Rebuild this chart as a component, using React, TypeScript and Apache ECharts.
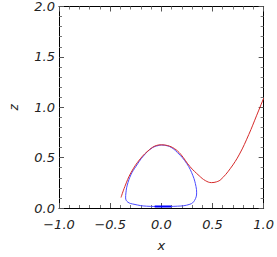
import React, { useEffect, useRef } from "react";
import * as echarts from "echarts";

const xTicks = [-1.0, -0.5, 0.0, 0.5, 1.0];
const zTicks = [0.0, 0.5, 1.0, 1.5, 2.0];

const redX = [-0.394, -0.357, -0.297, -0.206, -0.115, -0.05, 0.0, 0.06, 0.127, 0.188, 0.279, 0.37, 0.43, 0.49, 0.54, 0.582, 0.673, 0.764, 0.855, 0.93, 1.0];
const redZ = [0.104, 0.212, 0.35, 0.488, 0.58, 0.62, 0.627, 0.62, 0.59, 0.535, 0.412, 0.32, 0.272, 0.252, 0.26, 0.283, 0.39, 0.535, 0.73, 0.915, 1.09];

const blueX = [0.0, -0.085, -0.176, -0.25, -0.297, -0.333, -0.346, -0.349, -0.327, -0.267, -0.145, 0.0, 0.158, 0.279, 0.324, 0.345, 0.339, 0.309, 0.248, 0.158, 0.08, 0.0];
const blueZ = [0.625, 0.6, 0.515, 0.41, 0.33, 0.227, 0.15, 0.1, 0.058, 0.037, 0.018, 0.015, 0.018, 0.037, 0.074, 0.15, 0.212, 0.32, 0.442, 0.55, 0.61, 0.625];

const segX = [-0.065, 0.097];
const segZ = [0.015, 0.015];

const fmt = (v: number) => (v < 0 ? "\u2212" : "") + Math.abs(v).toFixed(1);

export default function App() {
  const ref = useRef<HTMLDivElement>(null);
  useEffect(() => {
    if (!ref.current) return;
    const chart = echarts.init(ref.current, undefined, { renderer: "svg" });
    const labelFont = {
      fontFamily: "DejaVu Sans",
      fontStyle: "oblique" as const,
      fontSize: 13,
      color: "#222",
    };
    const tickCommon = {
      show: true,
      inside: true,
      length: 5,
      lineStyle: { color: "#555", width: 1 },
    };
    const minorCommon = {
      show: true,
      splitNumber: 5,
      length: 3,
      lineStyle: { color: "#777", width: 1 },
    };
    const lineCommon = { show: true, onZero: false, lineStyle: { color: "#000", width: 1 } };
    chart.setOption({
      animation: false,
      backgroundColor: "#fff",
      grid: { left: 46, right: 11, top: 1, bottom: 39, containLabel: false },
      xAxis: [
        {
          type: "value",
          min: -1,
          max: 1,
          interval: 0.5,
          position: "bottom",
          axisLine: lineCommon,
          axisTick: tickCommon,
          minorTick: minorCommon,
          splitLine: { show: false },
          axisLabel: {
            ...labelFont,
            margin: 10,
            formatter: (v: number) => (xTicks.some((t) => Math.abs(t - v) < 1e-9) ? fmt(v) : ""),
          },
          name: "x",
          nameLocation: "middle",
          nameGap: 31,
          nameTextStyle: { ...labelFont },
        },
        {
          type: "value",
          min: -1,
          max: 1,
          interval: 0.5,
          position: "top",
          axisLine: lineCommon,
          axisTick: tickCommon,
          minorTick: minorCommon,
          splitLine: { show: false },
          axisLabel: { show: false },
        },
      ],
      yAxis: [
        {
          type: "value",
          min: 0,
          max: 2,
          interval: 0.5,
          position: "left",
          axisLine: lineCommon,
          axisTick: tickCommon,
          minorTick: minorCommon,
          splitLine: { show: false },
          axisLabel: {
            ...labelFont,
            margin: 4,
            formatter: (v: number) => (zTicks.some((t) => Math.abs(t - v) < 1e-9) ? fmt(v) : ""),
          },
          name: "z",
          nameLocation: "middle",
          nameGap: 39,
          nameRotate: 90,
          nameTextStyle: { ...labelFont, fontSize: 12 },
        },
        {
          type: "value",
          min: 0,
          max: 2,
          interval: 0.5,
          position: "right",
          axisLine: lineCommon,
          axisTick: tickCommon,
          minorTick: minorCommon,
          splitLine: { show: false },
          axisLabel: { show: false },
        },
      ],
      series: [
        {
          type: "line",
          xAxisIndex: 0,
          yAxisIndex: 0,
          data: blueX.map((x, i) => [x, blueZ[i]]),
          showSymbol: false,
          smooth: 0.4,
          lineStyle: { color: "#4a4aff", width: 1 },
          z: 2,
        },
        {
          type: "line",
          xAxisIndex: 0,
          yAxisIndex: 0,
          data: redX.map((x, i) => [x, redZ[i]]),
          showSymbol: false,
          smooth: 0.4,
          lineStyle: { color: "#d62a2a", width: 1 },
          z: 3,
        },
        {
          type: "line",
          xAxisIndex: 0,
          yAxisIndex: 0,
          data: segX.map((x, i) => [x, segZ[i]]),
          showSymbol: false,
          lineStyle: { color: "#0000ff", width: 2 },
          z: 4,
        },
      ],
    });
    return () => chart.dispose();
  }, []);
  return (
    <div
      ref={ref}
      style={{ position: "fixed", left: 0, top: 0, width: 277, height: 257, background: "#fff" }}
    />
  );
}
